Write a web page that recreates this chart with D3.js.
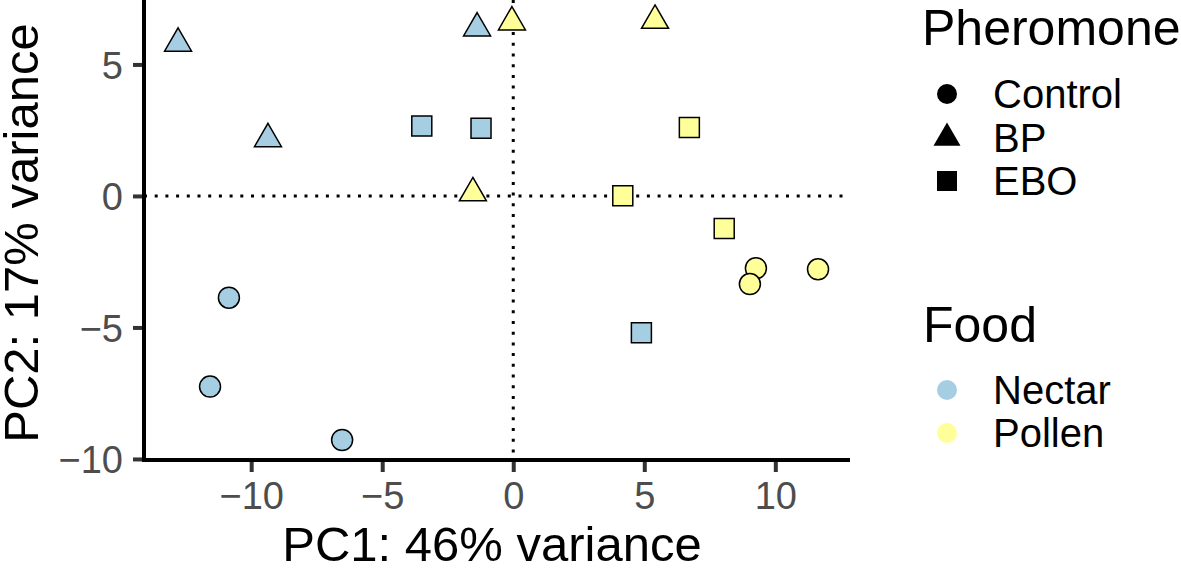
<!DOCTYPE html>
<html>
<head>
<meta charset="utf-8">
<script src="https://cdn.jsdelivr.net/npm/d3@7"></script>
<style>
  html, body { margin: 0; padding: 0; background: #ffffff; }
  svg { display: block; font-family: "Liberation Sans", Arial, Helvetica, sans-serif; }
</style>
</head>
<body>
<svg id="chart" width="1181" height="568"></svg>
<script>
// ---- data ----
const pc1 = [-12.79, -9.36, -1.38, -3.49, -1.23, 4.89, -10.85, -11.57, -6.53,
             -0.05, 5.41, -1.54, 4.18, 6.72, 8.05, 9.26, 9.03, 11.63];
const pc2 = [5.80, 2.17, 6.38, 2.66, 2.57, -5.20, -3.87, -7.25, -9.28,
             6.61, 6.67, 0.11, 0.01, 2.60, -1.24, -2.75, -3.35, -2.79];
const food = ["Nectar","Nectar","Nectar","Nectar","Nectar","Nectar","Nectar","Nectar","Nectar",
              "Pollen","Pollen","Pollen","Pollen","Pollen","Pollen","Pollen","Pollen","Pollen"];
const pheromone = ["BP","BP","BP","EBO","EBO","EBO","Control","Control","Control",
                   "BP","BP","BP","EBO","EBO","EBO","Control","Control","Control"];
const pheromoneLevels = ["Control", "BP", "EBO"];
const foodLevels = ["Nectar", "Pollen"];
const foodColors = ["#a6cee3", "#ffff99"];
const xTicks = [-10, -5, 0, 5, 10];
const yTicks = [-10, -5, 0, 5];
const xTitle = "PC1: 46% variance";
const yTitle = "PC2: 17% variance";

(function () {
// ---- layout ----
const svg = d3.select("#chart");
const pL = 144, pR = 850, pT = 0, pB = 460;
const x = d3.scaleLinear().domain([-14.09, 12.85]).range([pL, pR]);
const y = d3.scaleLinear().domain([-10.04, 7.45]).range([pB, pT]);
const color = d3.scaleOrdinal().domain(foodLevels).range(foodColors);
const triSize = w => Math.pow(w / (2 * Math.sqrt(3)), 2) * 3 * Math.sqrt(3);
const shapeSize = { "Control": 10.5 * 10.5 * Math.PI, "BP": triSize(27), "EBO": 400 };
const legSize = { "Control": 10 * 10 * Math.PI, "BP": triSize(27), "EBO": 400 };
const shapeType = d3.scaleOrdinal().domain(pheromoneLevels).range([d3.symbolCircle, d3.symbolTriangle, d3.symbolSquare]);
const sym = (p, s) => d3.symbol().type(shapeType(p)).size(s[p])();

// reference lines (dotted)
svg.append("line")
  .attr("x1", x(0)).attr("x2", x(0)).attr("y1", pT).attr("y2", pB)
  .attr("stroke", "#000").attr("stroke-width", 3).attr("stroke-dasharray", "3 7.7");
svg.append("line")
  .attr("x1", pL).attr("x2", pR).attr("y1", y(0)).attr("y2", y(0))
  .attr("stroke", "#000").attr("stroke-width", 3).attr("stroke-dasharray", "3 7.7");

// points
const pts = d3.range(pc1.length);
svg.append("g").selectAll("path").data(pts).join("path")
  .attr("transform", i => `translate(${x(pc1[i])},${y(pc2[i])})`)
  .attr("d", i => sym(pheromone[i], shapeSize))
  .attr("fill", i => color(food[i]))
  .attr("stroke", "#000").attr("stroke-width", 1.5);

// axes
const xAxis = svg.append("g").attr("transform", `translate(0,${pB})`)
  .call(d3.axisBottom(x).tickValues(xTicks).tickSize(12).tickPadding(10).tickFormat(d3.format("d")));
const yAxis = svg.append("g").attr("transform", `translate(${pL},0)`)
  .call(d3.axisLeft(y).tickValues(yTicks).tickSize(11).tickPadding(10).tickFormat(d3.format("d")));
[xAxis, yAxis].forEach(g => {
  g.select(".domain").remove();
  g.selectAll(".tick line").attr("stroke", "#333333").attr("stroke-width", 4);
  g.selectAll(".tick text").attr("fill", "#4d4d4d").attr("font-size", 38)
    .attr("font-family", "Liberation Sans, Arial, sans-serif");
});
xAxis.selectAll(".tick text").attr("dy", "0.71em");
yAxis.selectAll(".tick text").attr("dy", "0.36em");
// axis lines
svg.append("line").attr("x1", pL).attr("x2", pL).attr("y1", pT).attr("y2", pB + 2)
  .attr("stroke", "#000").attr("stroke-width", 4);
svg.append("line").attr("x1", pL - 2).attr("x2", pR).attr("y1", pB).attr("y2", pB)
  .attr("stroke", "#000").attr("stroke-width", 4);

// axis titles
svg.append("text").attr("x", (pL + pR) / 2 - 5).attr("y", 561)
  .attr("text-anchor", "middle").attr("font-size", 49).attr("fill", "#000").text(xTitle);
svg.append("text").attr("transform", `translate(38,233) rotate(-90)`)
  .attr("text-anchor", "middle").attr("font-size", 49).attr("fill", "#000").text(yTitle);

// legend: Pheromone
const lg = svg.append("g");
lg.append("text").attr("x", 922).attr("y", 45).attr("font-size", 50).text("Pheromone");
const phY = [94, 138, 181];
pheromoneLevels.forEach((p, i) => {
  lg.append("path").attr("transform", `translate(947,${phY[i]})`)
    .attr("d", sym(p, legSize)).attr("fill", "#000");
  lg.append("text").attr("x", 993).attr("y", phY[i] + 14).attr("font-size", 40).text(p);
});
// legend: Food
lg.append("text").attr("x", 923).attr("y", 342).attr("font-size", 50).text("Food");
const fdY = [390, 433];
foodLevels.forEach((f, i) => {
  lg.append("circle").attr("cx", 947).attr("cy", fdY[i]).attr("r", 10).attr("fill", color(f));
  lg.append("text").attr("x", 993).attr("y", fdY[i] + 14).attr("font-size", 40).text(f);
});
})();
</script>
</body>
</html>
